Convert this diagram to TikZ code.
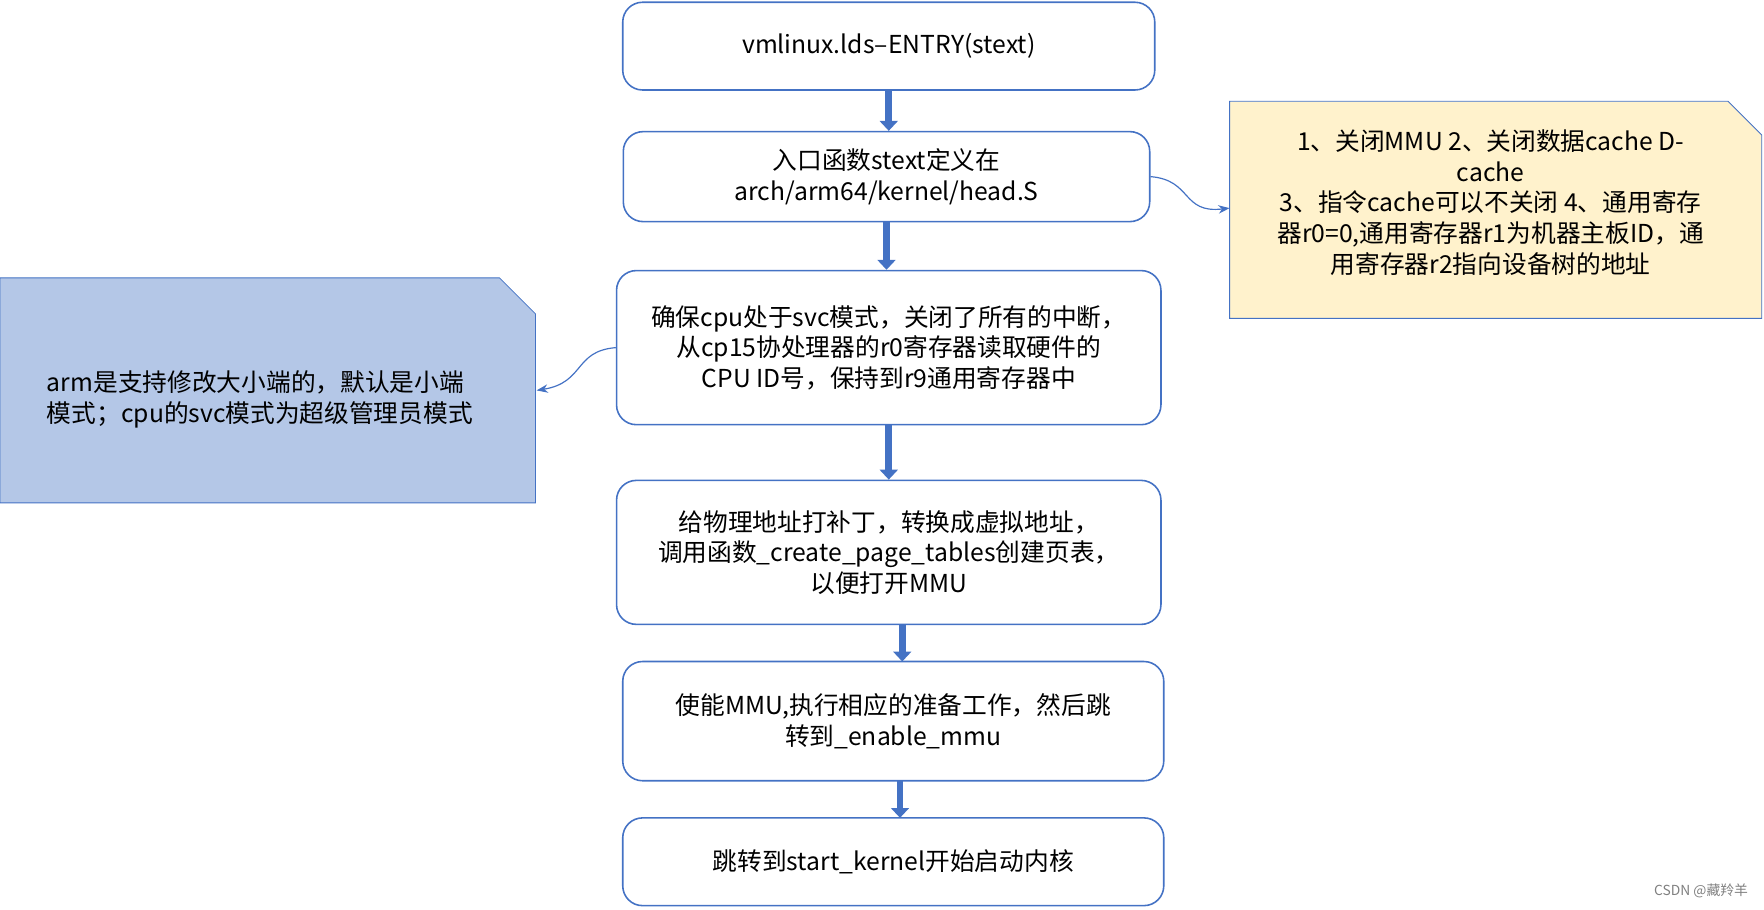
\documentclass[tikz,border=0pt]{standalone}
\usepackage{fontspec}
\setmainfont{Noto Sans CJK SC}
\usetikzlibrary{positioning, arrows.meta, calc}
\definecolor{boxblue}{HTML}{4472C4}
\definecolor{noteyellow}{HTML}{FFF2CC}
\definecolor{noteblue}{HTML}{B4C7E7}
\begin{document}
\begin{tikzpicture}[x=0.02cm, y=-0.02cm, every node/.style={font=\fontsize{12.5}{15.5}\selectfont}, >=Stealth]
\tikzset{
  flowbox/.style={draw=boxblue, thick, rounded corners=10pt, align=center, inner sep=0pt},
  fat/.style={-{Triangle[length=5pt,width=9pt]}, line width=3.5pt, boxblue},
  thin/.style={->, boxblue, semithick},
}
\useasboundingbox (0,0) rectangle (1568,808);

% Steps
\node (entry) [flowbox, minimum width=9.46cm, minimum height=1.56cm] at (790,41) {vmlinux.lds--ENTRY(stext)};
\node (stext) [flowbox, minimum width=9.36cm, minimum height=1.6cm] at (788,157) {入口函数stext定义在\\arch/arm64/kernel/head.S};
\node (svc) [flowbox, minimum width=9.68cm, minimum height=2.74cm] at (790,309) {确保cpu处于svc模式，关闭了所有的中断，\\从cp15协处理器的r0寄存器读取硬件的\\CPU ID号，保持到r9通用寄存器中};
\node (patch) [flowbox, minimum width=9.68cm, minimum height=2.56cm] at (790,491) {给物理地址打补丁，转换成虚拟地址，\\调用函数\_create\_page\_tables创建页表，\\以便打开MMU};
\node (mmu) [flowbox, minimum width=9.62cm, minimum height=2.12cm] at (794,641) {使能MMU,执行相应的准备工作，然后跳\\转到\_enable\_mmu};
\node (kernel) [flowbox, minimum width=9.62cm, minimum height=1.56cm] at (794,766) {跳转到start\_kernel开始启动内核};

% Notes
\draw[boxblue, fill=noteyellow] (1093,90) -- (1536,90) -- (1566,120) -- (1566,283) -- (1093,283) -- cycle;
\node (cpunote) [align=center] at (1325,180) {1、关闭MMU 2、关闭数据cache D-\\cache\\3、指令cache可以不关闭 4、通用寄存\\器r0=0,通用寄存器r1为机器主板ID，通\\用寄存器r2指向设备树的地址};
\coordinate (cpuin) at (1093,185);
\draw[boxblue, fill=noteblue] (0,247) -- (444,247) -- (476,279) -- (476,447) -- (0,447) -- cycle;
\node (endian) [align=left] at (231,355) {arm是支持修改大小端的，默认是小端\\模式；cpu的svc模式为超级管理员模式};
\coordinate (endin) at (477,347);

% Arrows
\draw[fat] (entry) -- (entry |- stext.north);
\draw[fat] (stext) -- (stext |- svc.north);
\draw[fat] (svc) -- (svc |- patch.north);
\draw[fat] (802,555) -- (802,588);
\draw[fat] (800,694) -- (800,727);
\draw[thin] (stext.east) .. controls (1060,160) and (1050,190) .. (cpuin);
\draw[thin] (svc.west) .. controls (510,312) and (520,340) .. (endin);

\node (mark) [text=gray, font=\fontsize{7}{8}\selectfont, anchor=east] at (1560,792) {CSDN @藏羚羊};
\end{tikzpicture}
\end{document}
